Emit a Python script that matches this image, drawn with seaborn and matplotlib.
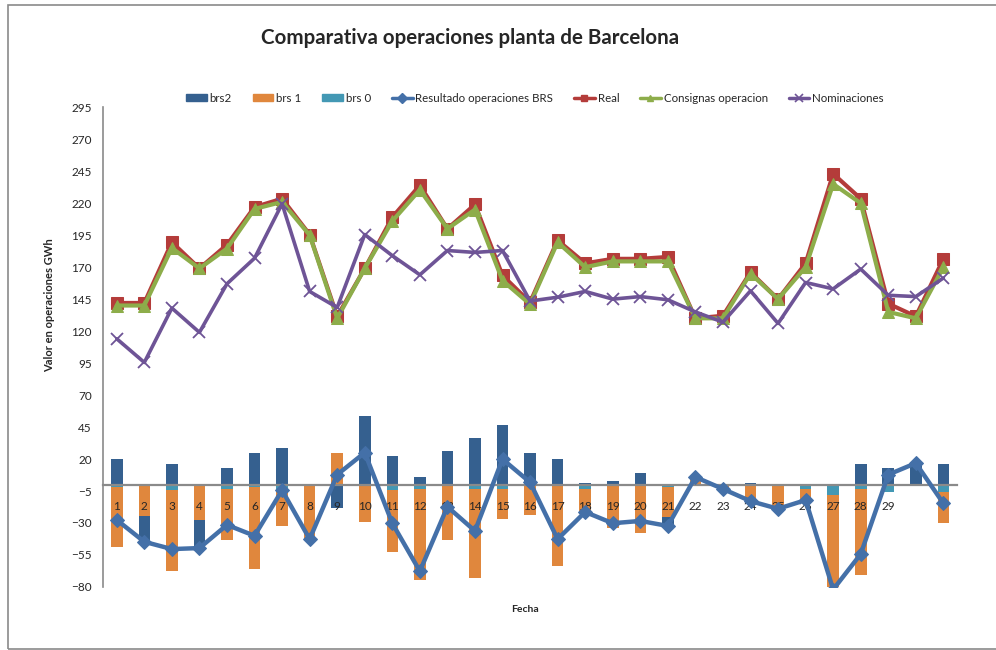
import numpy as np
import matplotlib
matplotlib.use("Agg")
import matplotlib.pyplot as plt
from matplotlib.lines import Line2D
from matplotlib.patches import Patch, Rectangle
from matplotlib.ticker import MultipleLocator, FixedLocator
import seaborn as sns

# ---------------------------------------------------------------------------
# Data
# ---------------------------------------------------------------------------
fechas = [str(i) for i in range(1, 30)] + ["", ""]

brs2 = [19.9, -21.5, 16.3, -22.8, 12.9, 25, 28.4, 0, -17.6, 53.5,
        22.7, 5.9, 26.4, 36.7, 46.5, 25, 19.9, 1.5, 3.1, 9,
        -7.2, 0, 0, 1.5, 0, 0, 0, 16, 12.9, 17.5, 16]
brs1 = [-46.5, -24, -63.8, -26.8, -40, -64.1, -28.7, -41.8, 25, -28.4,
        -49.1, -71, -42.6, -69.7, -23.2, -23.2, -62.5, -19.9, -33.3, -36.7,
        -23.3, 5.5, -3.4, -14, -18.9, -9.5, -74, -66.9, 0, 0, -24.3]
brs0 = [-2, -0.6, -3.9, -0.8, -3.4, -1.8, -3.9, -0.8, -0.5, -0.8,
        -3.9, -3.4, -0.8, -3.4, -3.4, -0.8, -0.8, -3.4, -0.8, -0.8,
        -1.8, 0, 0, 0, 0, -3.4, -7.8, -3.4, -5.9, -1.3, -5.9]

resultado = [-27.6, -44.7, -50.4, -49.6, -31.5, -40, -4.4, -42.6, 7.8, 25,
             -30.2, -67.7, -17.3, -36.2, 19.9, 1.8, -42.6, -21.4, -30.2, -28.4,
             -32.3, 5.9, -3.4, -12.9, -18.9, -12.1, -82, -54.3, 7.8, 16.8, -14.7]
real = [142, 142, 189.5, 169, 187.5, 217, 223.5, 195.5, 131.5, 169,
        209, 234, 200, 219, 163.5, 142.5, 191, 173, 176.5, 176.5,
        178, 130, 132, 166, 145, 173, 243, 223.5, 141.5, 131.5, 176.5]
consignas = [140, 140, 185, 169, 184.5, 215.5, 221, 195, 130, 169,
             206, 230.5, 200, 215, 159.5, 141, 189.5, 170, 174.5, 174.5,
             174.5, 130, 130, 165, 145, 170, 235, 220, 135, 130, 170]
nominaciones = [114, 95.5, 138, 119, 157, 177, 219.5, 151, 138.5, 195.5,
                179, 164, 183, 181.5, 183, 143.5, 146.5, 151, 145, 147,
                144.5, 135, 127, 151.5, 126, 158, 153, 168.5, 148, 147, 161.5]

# ---------------------------------------------------------------------------
# Colours
# ---------------------------------------------------------------------------
C_BRS2 = "#35608F"
C_BRS1 = "#E0873D"
C_BRS0 = "#4398B4"
C_RES = "#4470A8"
C_REAL = "#B43C3A"
C_CONS = "#8DAD4A"
C_NOM = "#6E5496"
GREY = "#8A8A8A"

sns.set_style("white")
plt.rcParams["font.family"] = ["Lato", "DejaVu Sans"]

fig = plt.figure(figsize=(9.96, 6.5), dpi=100)
ax = fig.add_axes([0.1034, 0.097, 0.8576, 0.738])
ax.set_axisbelow(False)   # tick labels drawn over the bars
x = np.arange(len(fechas))

# ---------------------------------------------------------------------------
# Stacked bars (brs0 nearest to zero, then brs1, then brs2)
# ---------------------------------------------------------------------------
pos = np.zeros(len(x))
neg = np.zeros(len(x))
for vals, color in [(brs0, C_BRS0), (brs1, C_BRS1), (brs2, C_BRS2)]:
    v = np.array(vals, dtype=float)
    bottom = np.where(v >= 0, pos, neg)
    ax.bar(x, v, bottom=bottom, width=0.42, color=color, zorder=1,
           edgecolor="none")
    pos += np.clip(v, 0, None)
    neg += np.clip(v, None, 0)

# ---------------------------------------------------------------------------
# Lines
# ---------------------------------------------------------------------------
sns.lineplot(x=x, y=resultado, ax=ax, color=C_RES, linewidth=3.2,
             marker="D", markersize=7, markeredgecolor=C_RES, zorder=4)
sns.lineplot(x=x, y=real, ax=ax, color=C_REAL, linewidth=3,
             marker="s", markersize=8, markeredgecolor=C_REAL, zorder=4)
sns.lineplot(x=x, y=consignas, ax=ax, color=C_CONS, linewidth=3,
             marker="^", markersize=8, markeredgecolor=C_CONS, zorder=5)
sns.lineplot(x=x, y=nominaciones, ax=ax, color=C_NOM, linewidth=2.6,
             marker="x", markersize=8, markeredgewidth=1.3,
             markeredgecolor=C_NOM, zorder=6)

# ---------------------------------------------------------------------------
# Axes
# ---------------------------------------------------------------------------
ax.set_xlim(-0.5, len(x) - 0.5)
ax.set_ylim(-80, 295)
ax.set_yticks(np.arange(-80, 296, 25))
ax.yaxis.set_minor_locator(MultipleLocator(5))
ax.tick_params(axis="y", which="major", direction="out", length=5,
               color=GREY, width=1, labelsize=8.5, pad=3)
ax.tick_params(axis="y", which="minor", direction="inout", length=3,
               color=GREY, width=0.8)

ax.set_xticks(x)
ax.set_xticklabels(fechas)
ax.xaxis.set_minor_locator(FixedLocator(np.arange(-0.5, len(x), 1)))
ax.tick_params(axis="x", which="major", length=0, labelsize=8.5, pad=12)
ax.tick_params(axis="x", which="minor", direction="out", length=3,
               color=GREY, width=1.2)

ax.spines["bottom"].set_position(("data", 0))
ax.spines["bottom"].set_color(GREY)
ax.spines["bottom"].set_linewidth(1.6)
ax.spines["left"].set_color(GREY)
ax.spines["left"].set_linewidth(1.2)
ax.spines["top"].set_visible(False)
ax.spines["right"].set_visible(False)
ax.set_xlabel("")
ax.set_ylabel("")

# ---------------------------------------------------------------------------
# Texts, legend, frame
# ---------------------------------------------------------------------------
fig.text(0.472, 0.942, "Comparativa operaciones planta de Barcelona",
         ha="center", va="center", fontsize=14.8, fontweight="bold")
fig.text(0.527, 0.062, "Fecha", ha="center", va="center",
         fontsize=7.5, fontweight="bold")
fig.text(0.050, 0.531, "Valor en operaciones GWh", ha="center", va="center",
         rotation=90, fontsize=8, fontweight="bold")

handles = [
    Patch(color=C_BRS2), Patch(color=C_BRS1), Patch(color=C_BRS0),
    Line2D([], [], color=C_RES, lw=2.5, marker="D", ms=5),
    Line2D([], [], color=C_REAL, lw=2.5, marker="s", ms=5),
    Line2D([], [], color=C_CONS, lw=2.5, marker="^", ms=5),
    Line2D([], [], color=C_NOM, lw=2.5, marker="x", ms=6, mew=1.2),
]
labels = ["brs2", "brs 1", "brs 0", "Resultado operaciones BRS", "Real",
          "Consignas operacion", "Nominaciones"]
fig.legend(handles, labels, loc="center", bbox_to_anchor=(0.537, 0.849),
           ncol=7, frameon=False, fontsize=8.3, handlelength=1.8,
           handleheight=0.6, columnspacing=1.8, handletextpad=0.25)

fig.add_artist(Rectangle((0.008, 0.0015), 1.0, 0.9908,
                         transform=fig.transFigure, fill=False,
                         edgecolor=GREY, linewidth=1.2))

fig.savefig("out.png", dpi=100)
